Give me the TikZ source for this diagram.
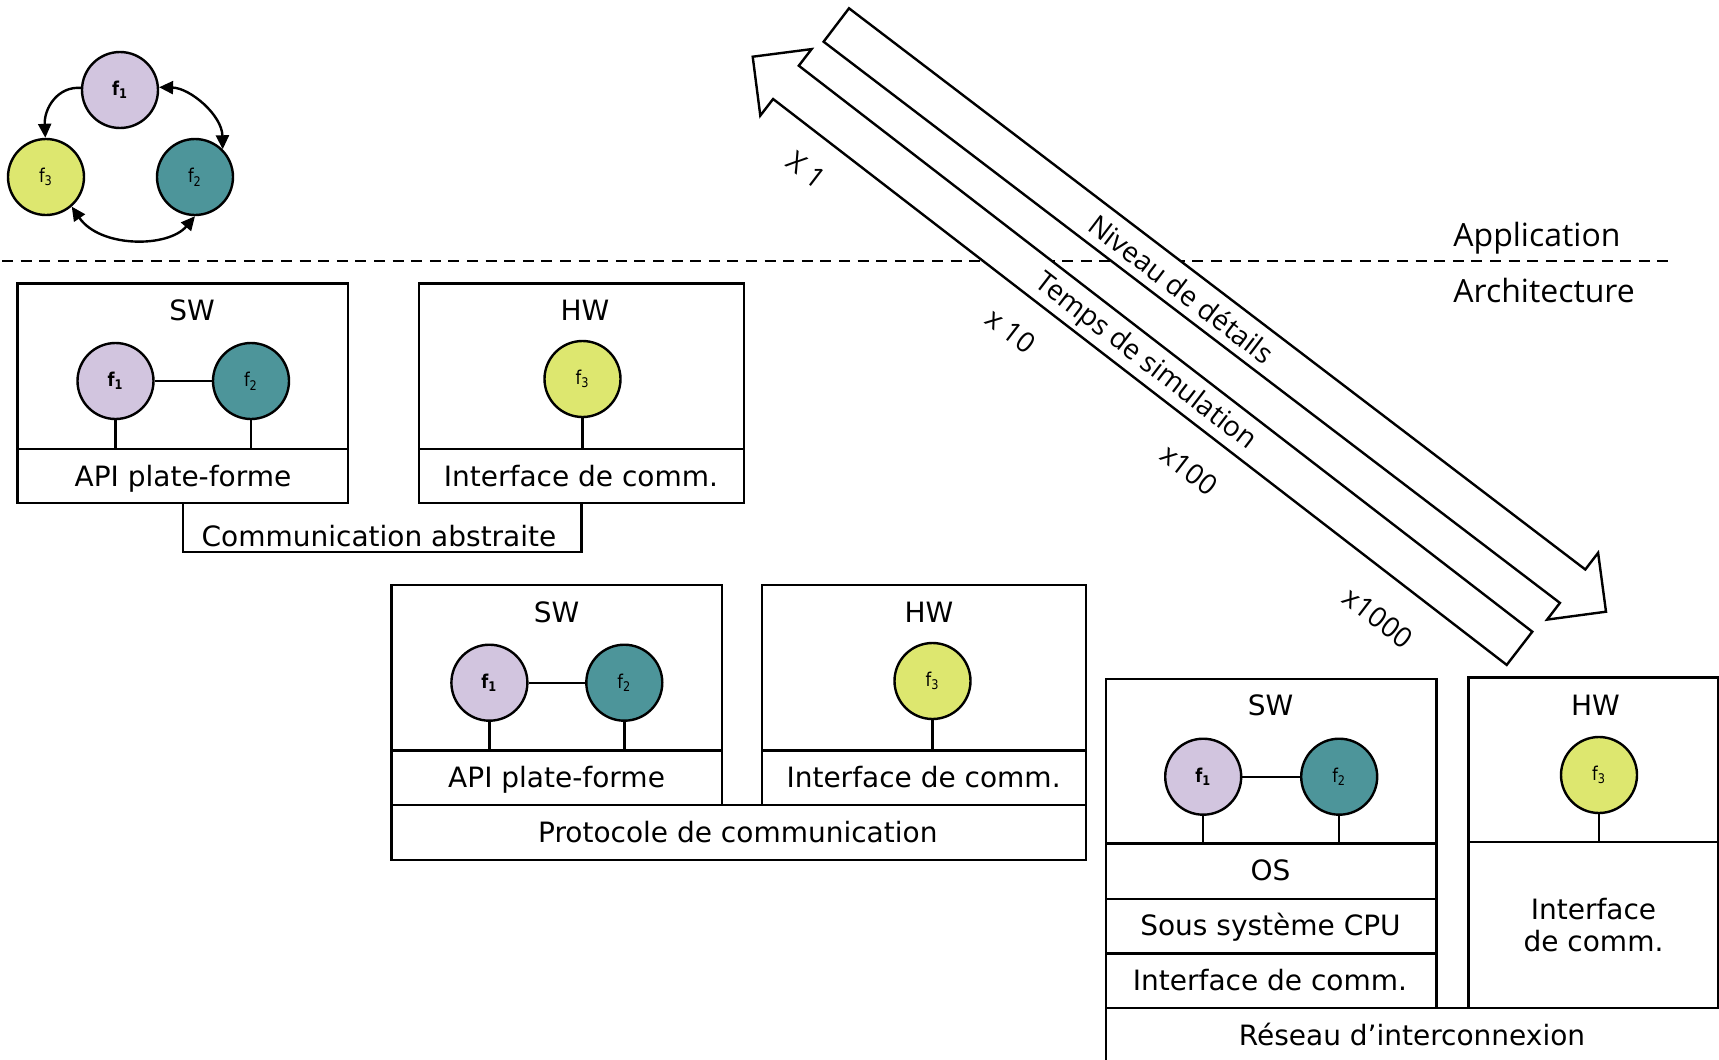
\documentclass[tikz,border=0pt]{standalone}
\usepackage{fontspec}
\setmainfont{DejaVu Sans}
\newfontfamily\arrowfont{Open Sans}
\newfontfamily\funcfont[FakeStretch=0.85]{DejaVu Sans}
\usetikzlibrary{fit,arrows.meta}

\definecolor{fone}{RGB}{210,197,223}
\definecolor{ftwo}{RGB}{77,149,154}
\definecolor{fthree}{RGB}{221,231,111}

\tikzset{
  boxline/.style={line width=1.2pt},
  layer/.style={draw, line width=1.2pt, inner sep=0pt, fit={#1}},
  funcnode/.style={circle, draw, line width=1.2pt, minimum size=38pt, inner sep=0pt,
    font=\funcfont\fontsize{9.5}{9.5}\selectfont},
  boxlabel/.style={anchor=base, inner sep=0pt, font=\fontsize{14}{16.2}\selectfont, align=center},
  levellabel/.style={anchor=base west, inner sep=0pt, font=\arrowfont\fontsize{16}{18}\selectfont},
  arrowlabel/.style={inner sep=0pt, font=\arrowfont\fontsize{14}{16}\selectfont},
  blockarrow/.style={draw, fill=white, line width=1.2pt, line join=miter},
  flowarrow/.style={line width=1.2pt},
  tip/.tip={Triangle[length=7pt,width=6.5pt]},
}

\begin{document}
\begin{tikzpicture}[x=0.5pt,y=-0.5pt]
\useasboundingbox (0,0) rectangle (1719,1060);
\clip (0,0) rectangle (1719,1060);

% --- application level: three functions ---
\node[funcnode, fill=fone]   (tf1) at (120,90)  {\bfseries f\textsubscript{1}};
\node[funcnode, fill=fthree] (tf3) at (46,177)  {f\textsubscript{3}};
\node[funcnode, fill=ftwo]   (tf2) at (195,177) {f\textsubscript{2}};
\draw[flowarrow, -tip] (tf1.177) .. controls (58,86) and (44,108) .. (tf3.91);
\draw[flowarrow, tip-tip] (tf1.4) .. controls (190,88) and (222,115) .. (tf2.45);
\draw[flowarrow, tip-tip] (tf3.-49) .. controls (100,248) and (168,248) .. (tf2.-90);

% --- separation between application and architecture ---
\coordinate (sepL) at (2,261);
\coordinate (sepR) at (1674,261);
\draw[line width=1.3pt, dash pattern=on 5.5pt off 3.8pt] (sepL) -- (sepR);
\node[levellabel] (app)  at (1453,246) {Application};
\node[levellabel] (arch) at (1453,302) {Architecture};

% --- level-of-detail / simulation-time arrows ---
\draw[blockarrow] (823.6,41.7) -- (1559.9,602.9) -- (1547.1,619.6) -- (1606,611.7)
  -- (1598.1,552.8) -- (1585.3,569.5) -- (849.0,8.3) -- cycle;
\draw[blockarrow] (1532.3,631.7) -- (798.8,65.7) -- (811.6,49.1) -- (752.7,56.7)
  -- (760.3,115.6) -- (773.1,99.0) -- (1506.7,664.9) -- cycle;
\node[arrowlabel, rotate=-37.3] (detail) at (1181.5,289) {Niveau de détails};
\node[arrowlabel, rotate=-37.6] (simtime) at (1145,362) {Temps de simulation};
\node[arrowlabel, rotate=-37.5] (s1)    at (806.7,170)  {X 1};
\node[arrowlabel, rotate=-37.5] (s10)   at (1010.8,331) {x 10};
\node[arrowlabel, rotate=-37.5] (s100)  at (1189,470)   {x100};
\node[arrowlabel, rotate=-37.5] (s1000) at (1378.3,618) {x1000};

% --- architecture 1: abstract communication ---
\node[layer={(17.5,283.5) (348,449)}] (sw1) {};
\node[layer={(17.5,449) (348,503)}]   (api1) {};
\node[layer={(419,283.5) (744,449)}]  (hw1) {};
\node[layer={(419,449) (744,503)}]    (if1) {};
\draw[boxline] (183,503) -- (183,552) -- (581.5,552) -- (581.5,503);
\node[boxlabel] (sw1t)  at (192,320.7) {SW};
\node[boxlabel] (hw1t)  at (585,320.7) {HW};
\node[boxlabel] (api1t) at (183,486)   {API plate-forme};
\node[boxlabel] (if1t)  at (581,486)   {Interface de comm.};
\node[boxlabel] (ca1t)  at (379,546.5) {Communication abstraite};
\node[funcnode, fill=fone]   (a1) at (115.5,381) {\bfseries f\textsubscript{1}};
\node[funcnode, fill=ftwo]   (a2) at (251,381)   {f\textsubscript{2}};
\node[funcnode, fill=fthree] (a3) at (582.5,379) {f\textsubscript{3}};
\draw[boxline] (a1) -- (a2);
\draw[boxline] (a1.south) -- (a1.south |- sw1.south);
\draw[boxline] (a2.south) -- (a2.south |- sw1.south);
\draw[boxline] (a3.south) -- (a3.south |- hw1.south);

% --- architecture 2: communication protocol ---
\node[layer={(391.5,585) (721.7,750.3)}] (sw2) {};
\node[layer={(391.5,750.3) (721.7,805)}] (api2) {};
\node[layer={(761.7,585) (1086,750.3)}]  (hw2) {};
\node[layer={(761.7,750.3) (1086,805)}]  (if2) {};
\node[layer={(391.5,805) (1086,860)}]    (proto) {};
\node[boxlabel] (sw2t)  at (556.6,622.7) {SW};
\node[boxlabel] (hw2t)  at (929,622.7)   {HW};
\node[boxlabel] (api2t) at (556.6,787.3) {API plate-forme};
\node[boxlabel] (if2t)  at (923.6,787.3) {Interface de comm.};
\node[boxlabel] (protot) at (737.8,842.7) {Protocole de communication};
\node[funcnode, fill=fone]   (b1) at (489.4,682.7) {\bfseries f\textsubscript{1}};
\node[funcnode, fill=ftwo]   (b2) at (624.3,682.7) {f\textsubscript{2}};
\node[funcnode, fill=fthree] (b3) at (932.5,681)   {f\textsubscript{3}};
\draw[boxline] (b1) -- (b2);
\draw[boxline] (b1.south) -- (b1.south |- sw2.south);
\draw[boxline] (b2.south) -- (b2.south |- sw2.south);
\draw[boxline] (b3.south) -- (b3.south |- hw2.south);

% --- architecture 3: interconnect network ---
\node[layer={(1106,679) (1436.4,843.3)}]     (sw3) {};
\node[layer={(1106,843.3) (1436.4,898.7)}]   (os3) {};
\node[layer={(1106,898.7) (1436.4,953.3)}]   (cpu3) {};
\node[layer={(1106,953.3) (1436.4,1007.7)}]  (if3) {};
\node[layer={(1468.3,677.3) (1717.8,842)}]   (hw3) {};
\node[layer={(1468.3,842) (1717.8,1007.7)}]  (if4) {};
\node[layer={(1106,1007.7) (1760,1090)}]     (net) {};
\node[boxlabel] (sw3t)  at (1270.5,715)   {SW};
\node[boxlabel] (hw3t)  at (1595.5,715)   {HW};
\node[boxlabel] (os3t)  at (1270.5,880.7) {OS};
\node[boxlabel] (cpu3t) at (1270.5,935)   {Sous système CPU};
\node[boxlabel] (if3t)  at (1270,990)     {Interface de comm.};
\node[boxlabel] (if4t)  at (1593.5,951.7) {Interface\\de comm.};
\node[boxlabel] (nett)  at (1412,1045)    {Réseau d’interconnexion};
\node[funcnode, fill=fone]   (c1) at (1203.2,776.7) {\bfseries f\textsubscript{1}};
\node[funcnode, fill=ftwo]   (c2) at (1339.2,776.7) {f\textsubscript{2}};
\node[funcnode, fill=fthree] (c3) at (1599,775)     {f\textsubscript{3}};
\draw[boxline] (c1) -- (c2);
\draw[boxline] (c1.south) -- (c1.south |- sw3.south);
\draw[boxline] (c2.south) -- (c2.south |- sw3.south);
\draw[boxline] (c3.south) -- (c3.south |- hw3.south);
\end{tikzpicture}
\end{document}
